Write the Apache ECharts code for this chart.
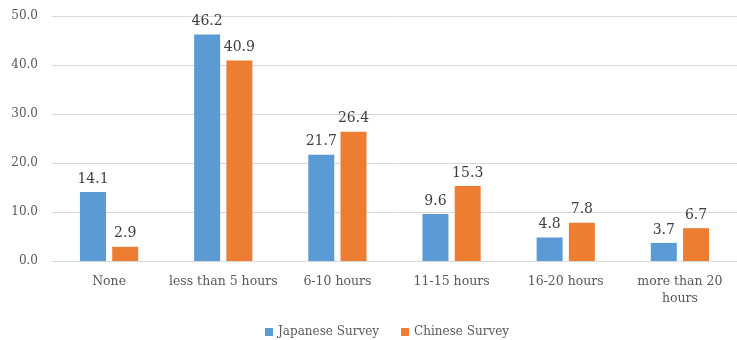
<!DOCTYPE html>
<html>
<head>
<meta charset="utf-8">
<script src="https://cdn.jsdelivr.net/npm/echarts@6/dist/echarts.min.js"></script>
<style>
  html, body { margin: 0; padding: 0; background: #fff; }
  #chart { width: 737px; height: 340px; }
</style>
</head>
<body>
<div id="chart"></div>
<script>
// Weekly hours categories and survey shares (%)
const categories = ['None', 'less than 5 hours', '6-10 hours', '11-15 hours', '16-20 hours', 'more than 20\nhours'];
const japaneseSurvey = [14.1, 46.2, 21.7, 9.6, 4.8, 3.7];
const chineseSurvey = [2.9, 40.9, 26.4, 15.3, 7.8, 6.7];
const seriesNames = ['Japanese Survey', 'Chinese Survey'];

const FONT = 'DejaVu Serif';
const chart = echarts.init(document.getElementById('chart'));

const labelStyle = {
  show: true,
  position: 'top',
  distance: 6,
  color: '#404040',
  fontFamily: FONT,
  fontSize: 14,
  formatter: p => p.value.toFixed(1)
};

chart.setOption({
  animation: false,
  textStyle: { fontFamily: FONT },
  grid: { left: 52, right: -7, top: 16, bottom: 79, containLabel: false },
  legend: {
    bottom: -3,
    left: 260,
    itemWidth: 8,
    itemHeight: 8,
    itemGap: 22,
    icon: 'rect',
    textStyle: { color: '#595959', fontFamily: FONT, fontSize: 12 },
    data: seriesNames
  },
  xAxis: {
    type: 'category',
    data: categories,
    axisLine: { show: true, lineStyle: { color: '#D9D9D9', width: 1 } },
    axisTick: { show: false },
    axisLabel: {
      color: '#595959',
      fontFamily: FONT,
      fontSize: 12.5,
      margin: 12,
      lineHeight: 17,
      interval: 0
    }
  },
  yAxis: {
    type: 'value',
    min: 0,
    max: 50,
    interval: 10,
    axisLine: { show: false },
    axisTick: { show: false },
    splitLine: { lineStyle: { color: '#D9D9D9', width: 1 } },
    axisLabel: {
      color: '#595959',
      fontFamily: FONT,
      fontSize: 12,
      margin: 14,
      formatter: v => v.toFixed(1)
    }
  },
  series: [
    {
      name: seriesNames[0],
      type: 'bar',
      data: japaneseSurvey,
      barWidth: 26,
      barGap: '24%',
      itemStyle: { color: '#5B9BD5' },
      label: labelStyle
    },
    {
      name: seriesNames[1],
      type: 'bar',
      data: chineseSurvey,
      barWidth: 26,
      barGap: '24%',
      itemStyle: { color: '#ED7D31' },
      label: labelStyle
    }
  ]
});
</script>
</body>
</html>
